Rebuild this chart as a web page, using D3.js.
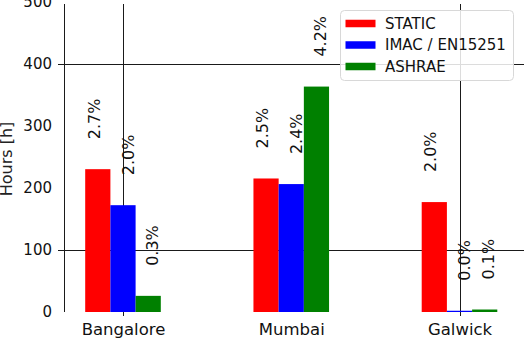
<!DOCTYPE html>
<html>
<head>
<meta charset="utf-8">
<script src="https://cdn.jsdelivr.net/npm/d3@7"></script>
<style>
  html, body { margin: 0; padding: 0; background: #fff; }
  svg { display: block; font-family: "DejaVu Sans", sans-serif; }
</style>
</head>
<body>
<svg id="chart" width="524" height="345"></svg>
<script>
const categories = ["Bangalore", "Mumbai", "Galwick"];
const seriesNames = ["STATIC", "IMAC / EN15251", "ASHRAE"];
const seriesColors = ["#ff0000", "#0000ff", "#008000"];
const staticHours = [230, 215, 177];
const imacHours = [172, 206, 2];
const ashraeHours = [26, 363, 4];
const staticPct = ["2.7%", "2.5%", "2.0%"];
const imacPct = ["2.0%", "2.4%", "0.0%"];
const ashraePct = ["0.3%", "4.2%", "0.1%"];
const yTicks = [0, 100, 200, 300, 400, 500];
const yLabel = "Hours [h]";

const values = [staticHours, imacHours, ashraeHours];
const pcts = [staticPct, imacPct, ashraePct];

const svg = d3.select("#chart");
const W = 524, H = 345;
const spineX = 64;

const x = d3.scalePoint().domain(categories).range([123, 459.5]);
const sub = d3.scaleBand().domain(seriesNames).range([-37.8, 37.8]);
const y = d3.scaleLinear().domain([0, 500]).range([312, 1.5]);

const lineColor = "#1a1a1a";

// horizontal grid lines (visible at 100 and 400)
[100, 400].forEach(v => {
  svg.append("line")
    .attr("x1", spineX - 6).attr("x2", W)
    .attr("y1", Math.round(y(v)) + 0.5).attr("y2", Math.round(y(v)) + 0.5)
    .attr("stroke", lineColor).attr("stroke-width", 1);
});
// vertical grid lines (visible at Bangalore and Galwick)
[categories[0], categories[2]].forEach(c => {
  svg.append("line")
    .attr("x1", Math.round(x(c)) + 0.5).attr("x2", Math.round(x(c)) + 0.5)
    .attr("y1", 4).attr("y2", 316)
    .attr("stroke", lineColor).attr("stroke-width", 1);
});

// bars
seriesNames.forEach((s, si) => {
  svg.append("g").selectAll("rect")
    .data(categories.map((c, ci) => ({ c, v: values[si][ci] })))
    .join("rect")
    .attr("x", d => x(d.c) + sub(s))
    .attr("width", sub.bandwidth())
    .attr("y", d => y(d.v))
    .attr("height", d => y(0) - y(d.v))
    .attr("fill", seriesColors[si]);
});

// percentage labels
const labelShift = [-4, 5, 4];
seriesNames.forEach((s, si) => {
  categories.forEach((c, ci) => {
    const cx = x(c) + sub(s) + sub.bandwidth() / 2 + labelShift[si];
    const ty = y(values[si][ci]) - 30;
    svg.append("text")
      .attr("transform", `translate(${cx},${ty}) rotate(-90)`)
      .attr("dy", "0.36em")
      .attr("text-anchor", "start")
      .attr("font-size", 16)
      .attr("fill", "#111")
      .text(pcts[si][ci]);
  });
});

// y axis
const yAxis = d3.axisLeft(y).tickValues(yTicks).tickSize(0).tickPadding(12);
const gy = svg.append("g").attr("transform", `translate(${spineX},0)`).call(yAxis);
gy.select(".domain").remove();
gy.selectAll("text").attr("font-size", 15).attr("fill", "#111").attr("font-family", "DejaVu Sans");

svg.append("line")
  .attr("x1", spineX + 0.5).attr("x2", spineX + 0.5)
  .attr("y1", 4).attr("y2", 312)
  .attr("stroke", lineColor).attr("stroke-width", 1);

// x axis
const xAxis = d3.axisBottom(x).tickSize(0).tickPadding(11.5);
const gx = svg.append("g").attr("transform", `translate(0,312)`).call(xAxis);
gx.select(".domain").remove();
gx.selectAll("text").attr("font-size", 16.5).attr("fill", "#111").attr("font-family", "DejaVu Sans");

// y label
svg.append("text")
  .attr("transform", `translate(12,159) rotate(-90)`)
  .attr("text-anchor", "middle")
  .attr("font-size", 16)
  .attr("fill", "#222")
  .text(yLabel);

// legend
const lg = svg.append("g");
lg.append("rect")
  .attr("x", 340.5).attr("y", 10.5).attr("width", 173).attr("height", 70)
  .attr("rx", 4).attr("ry", 4)
  .attr("fill", "#fff").attr("fill-opacity", 0.85)
  .attr("stroke", "#d8d8d8").attr("stroke-width", 1);
seriesNames.forEach((s, i) => {
  const cy = 23.5 + i * 21.5;
  lg.append("rect")
    .attr("x", 345.5).attr("y", cy - 3.75).attr("width", 30).attr("height", 7.5)
    .attr("fill", seriesColors[i]);
  lg.append("text")
    .attr("x", 385).attr("y", cy + 5)
    .attr("font-size", 15)
    .attr("fill", "#111")
    .text(s);
});
</script>
</body>
</html>
